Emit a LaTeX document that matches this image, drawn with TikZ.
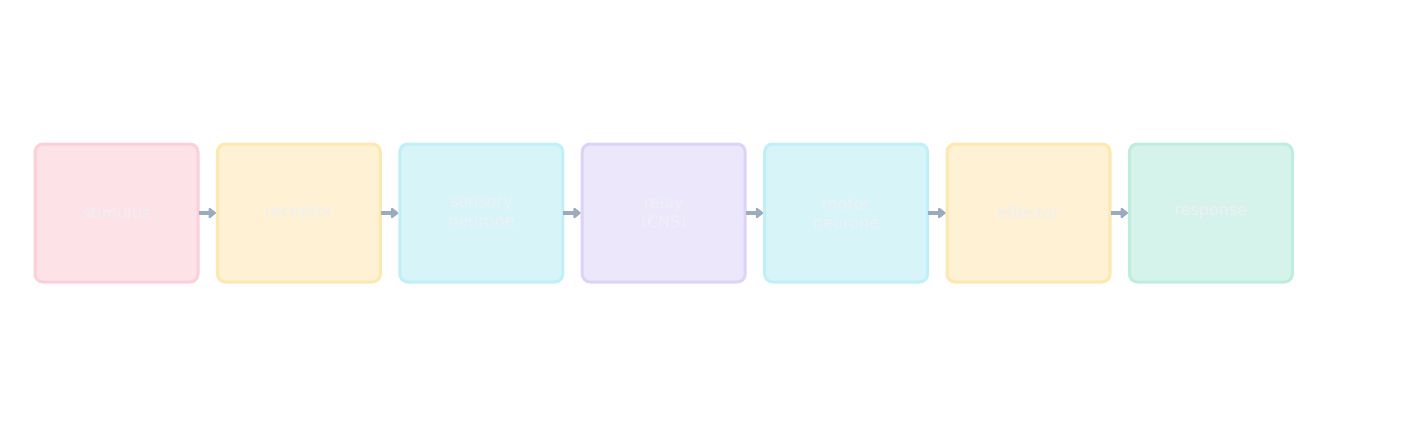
\documentclass[tikz,border=0pt]{standalone}
\usepackage{fontspec}
\setmainfont{DejaVu Sans}
\usetikzlibrary{arrows.meta}
\definecolor{pkF}{HTML}{FDE2E7}\definecolor{pkD}{HTML}{FDD0D9}
\definecolor{ylF}{HTML}{FEF1D4}\definecolor{ylD}{HTML}{FDE8B0}
\definecolor{cyF}{HTML}{D7F5F9}\definecolor{cyD}{HTML}{BFF0F7}
\definecolor{puF}{HTML}{EDE7FC}\definecolor{puD}{HTML}{DDD3F9}
\definecolor{grF}{HTML}{D5F3EA}\definecolor{grD}{HTML}{BDEEDD}
\definecolor{arr}{HTML}{9AABBD}
\definecolor{txt}{HTML}{EEF0F6}
\begin{document}
\begin{tikzpicture}[x=1pt,y=-1pt,
  box/.style={draw=#1D,fill=#1F,line width=3pt,rounded corners=8pt,minimum width=163pt,minimum height=138pt,inner sep=0pt,text=txt,font=\fontsize{16}{19}\selectfont,align=center},
  con/.style={draw=arr,line width=3.5pt,shorten <=-1pt,-{Triangle[length=8pt,width=12pt,round]}}]
\useasboundingbox (0,0) rectangle (1416,426);
\node[box=pk] (a) at (116.5,213) {stimulus};
\node[box=yl] (b) at (298.9,213) {receptor};
\node[box=cy] (c) at (481.3,213) {sensory\\neurone};
\node[box=pu] (d) at (663.7,213) {relay\\(CNS)};
\node[box=cy] (e) at (846.1,213) {motor\\neurone};
\node[box=yl] (f) at (1028.5,213) {effector};
\node[box=gr] (g) at (1210.9,213) {response};
\foreach \u/\v in {a/b,b/c,c/d,d/e,e/f,f/g} \draw[con] (\u) -- (\v);
\end{tikzpicture}
\end{document}
